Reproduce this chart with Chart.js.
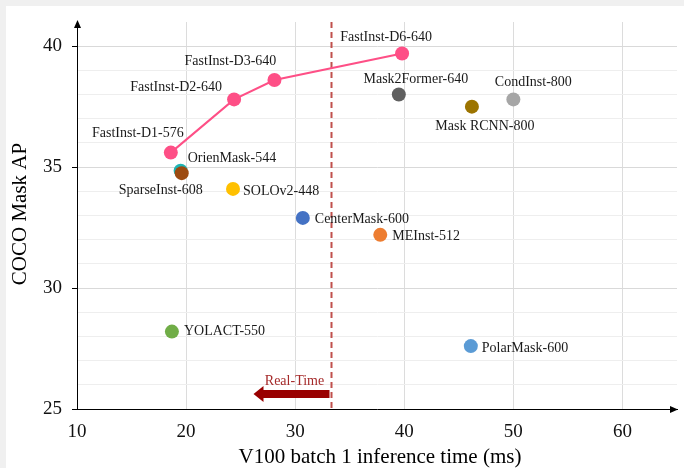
<!DOCTYPE html>
<html><head><meta charset="utf-8">
<script src="https://cdn.jsdelivr.net/npm/chart.js@4/dist/chart.umd.min.js"></script>
<style>html,body{margin:0;padding:0;background:#fff}canvas{display:block}</style>
</head><body>
<canvas id="c" width="684" height="468"></canvas>
<script>
// ---- data ----
const fastInstNames = ['FastInst-D1-576','FastInst-D2-640','FastInst-D3-640','FastInst-D6-640'];
const fastInstTime  = [18.6, 24.4, 28.1, 39.8];
const fastInstAP    = [35.6, 37.8, 38.6, 39.7];

const otherNames = ['OrienMask-544','SparseInst-608','SOLOv2-448','CenterMask-600','MEInst-512','Mask2Former-640','Mask RCNN-800','CondInst-800','YOLACT-550','PolarMask-600'];
const otherTime  = [19.5, 19.6, 24.3, 30.7, 37.8, 39.5, 46.2, 50.0, 18.7, 46.1];
const otherAP    = [34.85, 34.75, 34.1, 32.9, 32.2, 38.0, 37.5, 37.8, 28.2, 27.6];

const xTickValues = [10, 20, 30, 40, 50, 60];
const yTickValues = [25, 30, 35, 40];
const realTimeLimit = 33.3;

// ---- styles ----
const fastColor = '#fe4f86';
const otherColors = ['#1fb5b5','#9c4a10','#ffc000','#4472c4','#ed7d31','#606060','#9c7400','#a6a6a6','#70ad47','#5b9bd5'];
// label placement: [dx, dy, align]
const fastLabelPos = [[-33,-19,'center'],[-58,-12,'center'],[-44,-19,'center'],[-16,-16,'center']];
const otherLabelPos = [[7,-12,'left'],[-21,17,'center'],[10,2,'left'],[12,1,'left'],[12,1,'left'],[17,-15,'center'],[13,20,'center'],[20,-17,'center'],[12,0,'left'],[11,2,'left']];
const SERIF = '"Liberation Serif", "DejaVu Serif", serif';

const fastPts = fastInstTime.map((x,i)=>({x, y: fastInstAP[i]}));
const otherDatasets = otherNames.map((n,i)=>({
  label: n,
  data: [{x: otherTime[i], y: otherAP[i]}],
  backgroundColor: otherColors[i],
  borderColor: otherColors[i],
  pointRadius: 7, pointHoverRadius: 7, borderWidth: 0,
  showLine: false
}));

const deco = {
  id: 'deco',
  beforeDraw(chart) {
    const ctx = chart.ctx;
    ctx.save();
    ctx.fillStyle = '#f0f0f0';
    ctx.fillRect(0,0,chart.width,chart.height);
    ctx.fillStyle = '#ffffff';
    ctx.fillRect(6,6,chart.width-6,chart.height-6);
    ctx.restore();
  },
  beforeDatasetsDraw(chart) {
    const ctx = chart.ctx, xs = chart.scales.x, a = chart.chartArea;
    const px = Math.round(xs.getPixelForValue(realTimeLimit)) + 0.5;
    ctx.save();
    ctx.strokeStyle = '#c0504d';
    ctx.lineWidth = 2;
    ctx.setLineDash([6,4]);
    ctx.beginPath(); ctx.moveTo(px, a.top); ctx.lineTo(px, a.bottom); ctx.stroke();
    ctx.setLineDash([]);
    // real-time arrow
    const ay = 394;
    ctx.fillStyle = '#990000';
    ctx.fillRect(px - 70, ay - 4, 68, 8);
    ctx.beginPath();
    ctx.moveTo(px - 78, ay);
    ctx.lineTo(px - 68, ay - 8);
    ctx.lineTo(px - 68, ay + 8);
    ctx.closePath(); ctx.fill();
    ctx.fillStyle = '#a52a2a';
    ctx.font = '14px ' + SERIF;
    ctx.textAlign = 'center'; ctx.textBaseline = 'middle';
    ctx.fillText('Real-Time', px - 37, 381);
    ctx.restore();
  },
  afterDraw(chart) {
    const ctx = chart.ctx, xs = chart.scales.x, ys = chart.scales.y, a = chart.chartArea;
    ctx.save();
    // axis arrows
    ctx.fillStyle = '#000';
    ctx.beginPath();
    ctx.moveTo(a.left + 0.5, a.top - 2); ctx.lineTo(a.left - 3, a.top + 6); ctx.lineTo(a.left + 4, a.top + 6); ctx.closePath(); ctx.fill();
    ctx.beginPath();
    ctx.moveTo(a.right + 1, a.bottom + 0.5); ctx.lineTo(a.right - 7, a.bottom - 3); ctx.lineTo(a.right - 7, a.bottom + 4); ctx.closePath(); ctx.fill();
    // point labels
    ctx.fillStyle = '#1a1a1a';
    ctx.font = '14px ' + SERIF;
    ctx.textBaseline = 'middle';
    fastInstNames.forEach((n,i)=>{
      const x = xs.getPixelForValue(fastInstTime[i]), y = ys.getPixelForValue(fastInstAP[i]);
      const p = fastLabelPos[i];
      ctx.textAlign = p[2]; ctx.fillText(n, x + p[0], y + p[1]);
    });
    otherNames.forEach((n,i)=>{
      const x = xs.getPixelForValue(otherTime[i]), y = ys.getPixelForValue(otherAP[i]);
      const p = otherLabelPos[i];
      ctx.textAlign = p[2]; ctx.fillText(n, x + p[0], y + p[1]);
    });
    // axis titles
    ctx.fillStyle = '#000';
    ctx.font = '21px ' + SERIF;
    ctx.textAlign = 'center';
    ctx.fillText('V100 batch 1 inference time (ms)', 380, 457);
    ctx.translate(20, 214);
    ctx.rotate(-Math.PI/2);
    ctx.fillText('COCO Mask AP', 0, 0);
    ctx.restore();
  }
};

new Chart(document.getElementById('c'), {
  type: 'scatter',
  data: {
    datasets: [{
      label: 'FastInst',
      data: fastPts,
      showLine: true,
      borderColor: fastColor,
      backgroundColor: fastColor,
      borderWidth: 2,
      pointRadius: 7, pointHoverRadius: 7,
      pointBorderWidth: 0,
      order: 0
    }, ...otherDatasets.reverse()]
  },
  options: {
    responsive: false,
    devicePixelRatio: 1,
    animation: false,
    events: [],
    layout: { padding: { left: 6, top: 22, right: 5, bottom: 0 } },
    plugins: { legend: { display: false }, tooltip: { enabled: false } },
    scales: {
      x: {
        type: 'linear', min: 10, max: 65,
        afterBuildTicks(s){ s.ticks = xTickValues.map(v=>({value:v})); },
        afterFit(s){ s.height = 59; },
        grid: { color: '#dcdcdc', lineWidth: 1, drawTicks: false },
        border: { display: true, color: '#000', width: 1 },
        ticks: { font: { family: SERIF, size: 19 }, color: '#111', padding: 12, maxRotation: 0 }
      },
      y: {
        type: 'linear', min: 25, max: 41,
        afterBuildTicks(s){ const t=[]; for(let v=25; v<=40; v++) t.push({value:v}); s.ticks = t; },
        afterFit(s){ s.width = 71; },
        grid: {
          color: c => (c.tick && yTickValues.includes(c.tick.value)) ? '#d9d9d9' : '#eeeeee',
          tickColor: c => (c.tick && yTickValues.includes(c.tick.value)) ? '#000' : 'rgba(0,0,0,0)',
          tickLength: 5, lineWidth: 1
        },
        border: { display: true, color: '#000', width: 1 },
        ticks: {
          font: { family: SERIF, size: 19 }, color: '#111', padding: 10,
          callback: v => yTickValues.includes(v) ? String(v) : ''
        }
      }
    }
  },
  plugins: [deco]
});
</script>
</body></html>
